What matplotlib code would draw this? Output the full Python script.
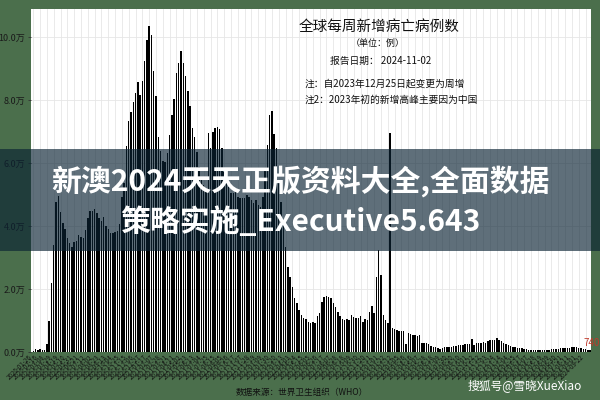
import numpy as np
import pandas as pd
import matplotlib
matplotlib.use("Agg")
from matplotlib import pyplot as plt
from matplotlib.patches import Rectangle

plt.rcParams['font.family'] = ['Noto Sans CJK SC', 'DejaVu Sans']
plt.rcParams['axes.unicode_minus'] = False

# weekly new deaths (one value per bar)
week_start = "2020-01-26"
deaths_2020 = [300, 900, 500, 800, 600, 500, 2500, 9900, 22000, 34000,
               47600, 49500, 44400, 41000, 39000, 36200, 34600, 33300, 35000, 35200,
               37000, 36500, 36200, 38700, 42500, 44800, 44800, 45400, 44100, 42500,
               41600, 42900, 40000, 39000, 37800, 37800, 38100, 38400, 40600, 49200,
               53700, 65400, 73300, 76200, 79400, 82200, 85700, 81600, 86000]
deaths_2021 = [92400, 99000, 103500, 100600, 89200, 81300, 68300, 63800, 60600, 60300,
               63200, 68900, 75200, 80300, 88600, 91800, 95600, 91800, 87600, 82900,
               78100, 71100, 68300, 63500, 58700, 55600, 53000, 51400, 69500, 64800,
               69800, 71100, 71400, 70800, 64800, 57200, 54900, 52400, 50500, 50500,
               50800, 49200, 48900, 48900, 48900, 49800, 49200, 48300, 47300, 48300,
               46700, 46000]
deaths_2022 = [49200, 57800, 65700, 75200, 76500, 69200, 64800, 54600, 47600, 40300,
               33300, 27000, 23800, 20600, 17100, 15600, 13300, 11700, 10800, 10500,
               9500, 9200, 9500, 9200, 11400, 12400, 15900, 17500, 17800, 17500,
               17100, 15600, 14300, 12700, 11400, 10500, 10200, 10500, 10200, 11700,
               11100, 10800, 10800, 11400, 9500, 10500, 10200, 12700, 14600, 12400,
               23800, 32400]
deaths_2023 = [24400, 11700, 10200, 9200, 69500, 7600, 7200, 7000, 6700, 6800,
               6700, 2400, 5900, 5600, 5400, 5400, 5000, 5300, 3000, 2800,
               2800, 2400, 1900, 1700, 1500, 1300, 1100, 1300, 1500, 1700,
               1500, 1700, 1900, 1900, 2100, 2300, 2300, 2400, 2600, 2400,
               4000, 2100, 2800, 3000, 3000, 3100, 3000, 3500, 3700, 3700,
               3700, 4300, 3900]
deaths_2024 = [3500, 3000, 2400, 2100, 1900, 1700, 1700, 1400, 1300, 1300,
               850, 850, 740, 740, 630, 630, 630, 630, 630, 740,
               740, 630, 850, 850, 1060, 1060, 1160, 1160, 1270, 1270,
               1380, 1480, 1480, 1480, 1380, 1160, 1060, 850, 630, 740]

y_ticks = [0, 20000, 40000, 60000, 80000, 100000]
y_tick_labels = ["0.0万", "2.0万", "4.0万", "6.0万", "8.0万", "10.0万"]

title = "全球每周新增病亡病例数"
unit_text = "（单位：例）"
report_text = "报告日期： 2024-11-02"
note_1 = "注：自2023年12月25日起变更为周增"
note_2 = "注2：2023年初的新增高峰主要因为中国"
source_text = "数据来源：世界卫生组织（WHO）"
banner_1 = "新澳2024天天正版资料大全,全面数据"
banner_2 = "策略实施_Executive5.643"
watermark = "搜狐号@雪晓XueXiao"

weekly_deaths = deaths_2020 + deaths_2021 + deaths_2022 + deaths_2023 + deaths_2024
weeks = pd.date_range(week_start, periods=len(weekly_deaths), freq="7D")
week_labels = [d.strftime("%Y-%m-%d") for d in weeks]


def fx(px):
    return px / 600


def fy(py):
    return 1 - py / 400


fig = plt.figure(figsize=(6, 4), dpi=100, facecolor="#4b6f4c")
ax = fig.add_axes([fx(31), fy(352), 560 / 600, 343 / 400])
ax.set_facecolor("white")

x = np.arange(len(weekly_deaths))
ax.bar(x, weekly_deaths, width=0.62, color="black", zorder=2)
ax.set_xlim(-1.0, len(x) - 0.6)
ax.set_ylim(0, 108900)

ax.set_yticks(y_ticks)
ax.set_yticklabels(y_tick_labels, fontsize=6.5, color="#1a1a1a")
ax.set_xticks(x[::3])
ax.set_xticklabels(week_labels[::3], rotation=45, ha="right", fontsize=4.5, color="#111111")
ax.tick_params(axis="x", length=0, pad=1)
ax.tick_params(axis="y", length=2, width=0.6, pad=2, color="#333333")
ax.grid(True, color="#e6e6e6", linewidth=0.6, zorder=0)
ax.set_axisbelow(True)
for s in ax.spines.values():
    s.set_visible(False)

# last value label
ax.text(x[-1] - 3, weekly_deaths[-1] + 2100, f"{weekly_deaths[-1]}", color="#c0392b",
        fontsize=7, ha="left", va="center", clip_on=False)

# titles and notes
fig.text(fx(379), fy(27), title, fontsize=10.5, ha="center", va="center", color="#111111")
fig.text(fx(378), fy(43), unit_text, fontsize=6.5, ha="center", va="center", color="#111111")
fig.text(fx(381), fy(61), report_text, fontsize=7, ha="center", va="center", color="#111111")
fig.text(fx(305), fy(84), note_1, fontsize=7, ha="left", va="center", color="#111111")
fig.text(fx(305), fy(100), note_2, fontsize=7, ha="left", va="center", color="#111111")
fig.text(fx(302), fy(392), source_text, fontsize=6.2, ha="center", va="center", color="#111111")
fig.text(fx(468), fy(386), watermark, fontsize=8.5, ha="left", va="center", color="white")

# banner overlay
fig.add_artist(Rectangle((0, fy(251)), 1, 102 / 400, transform=fig.transFigure,
                         facecolor="#0a2233", edgecolor="none", alpha=0.65, zorder=5))
fig.text(0.5, fy(181), banner_1, fontsize=21.5, fontweight="bold", ha="center",
         va="center", color="white", zorder=6)
fig.text(0.5, fy(222), banner_2, fontsize=21.5, fontweight="bold", ha="center",
         va="center", color="white", zorder=6)

fig.savefig("out.png", dpi=100, facecolor=fig.get_facecolor())
